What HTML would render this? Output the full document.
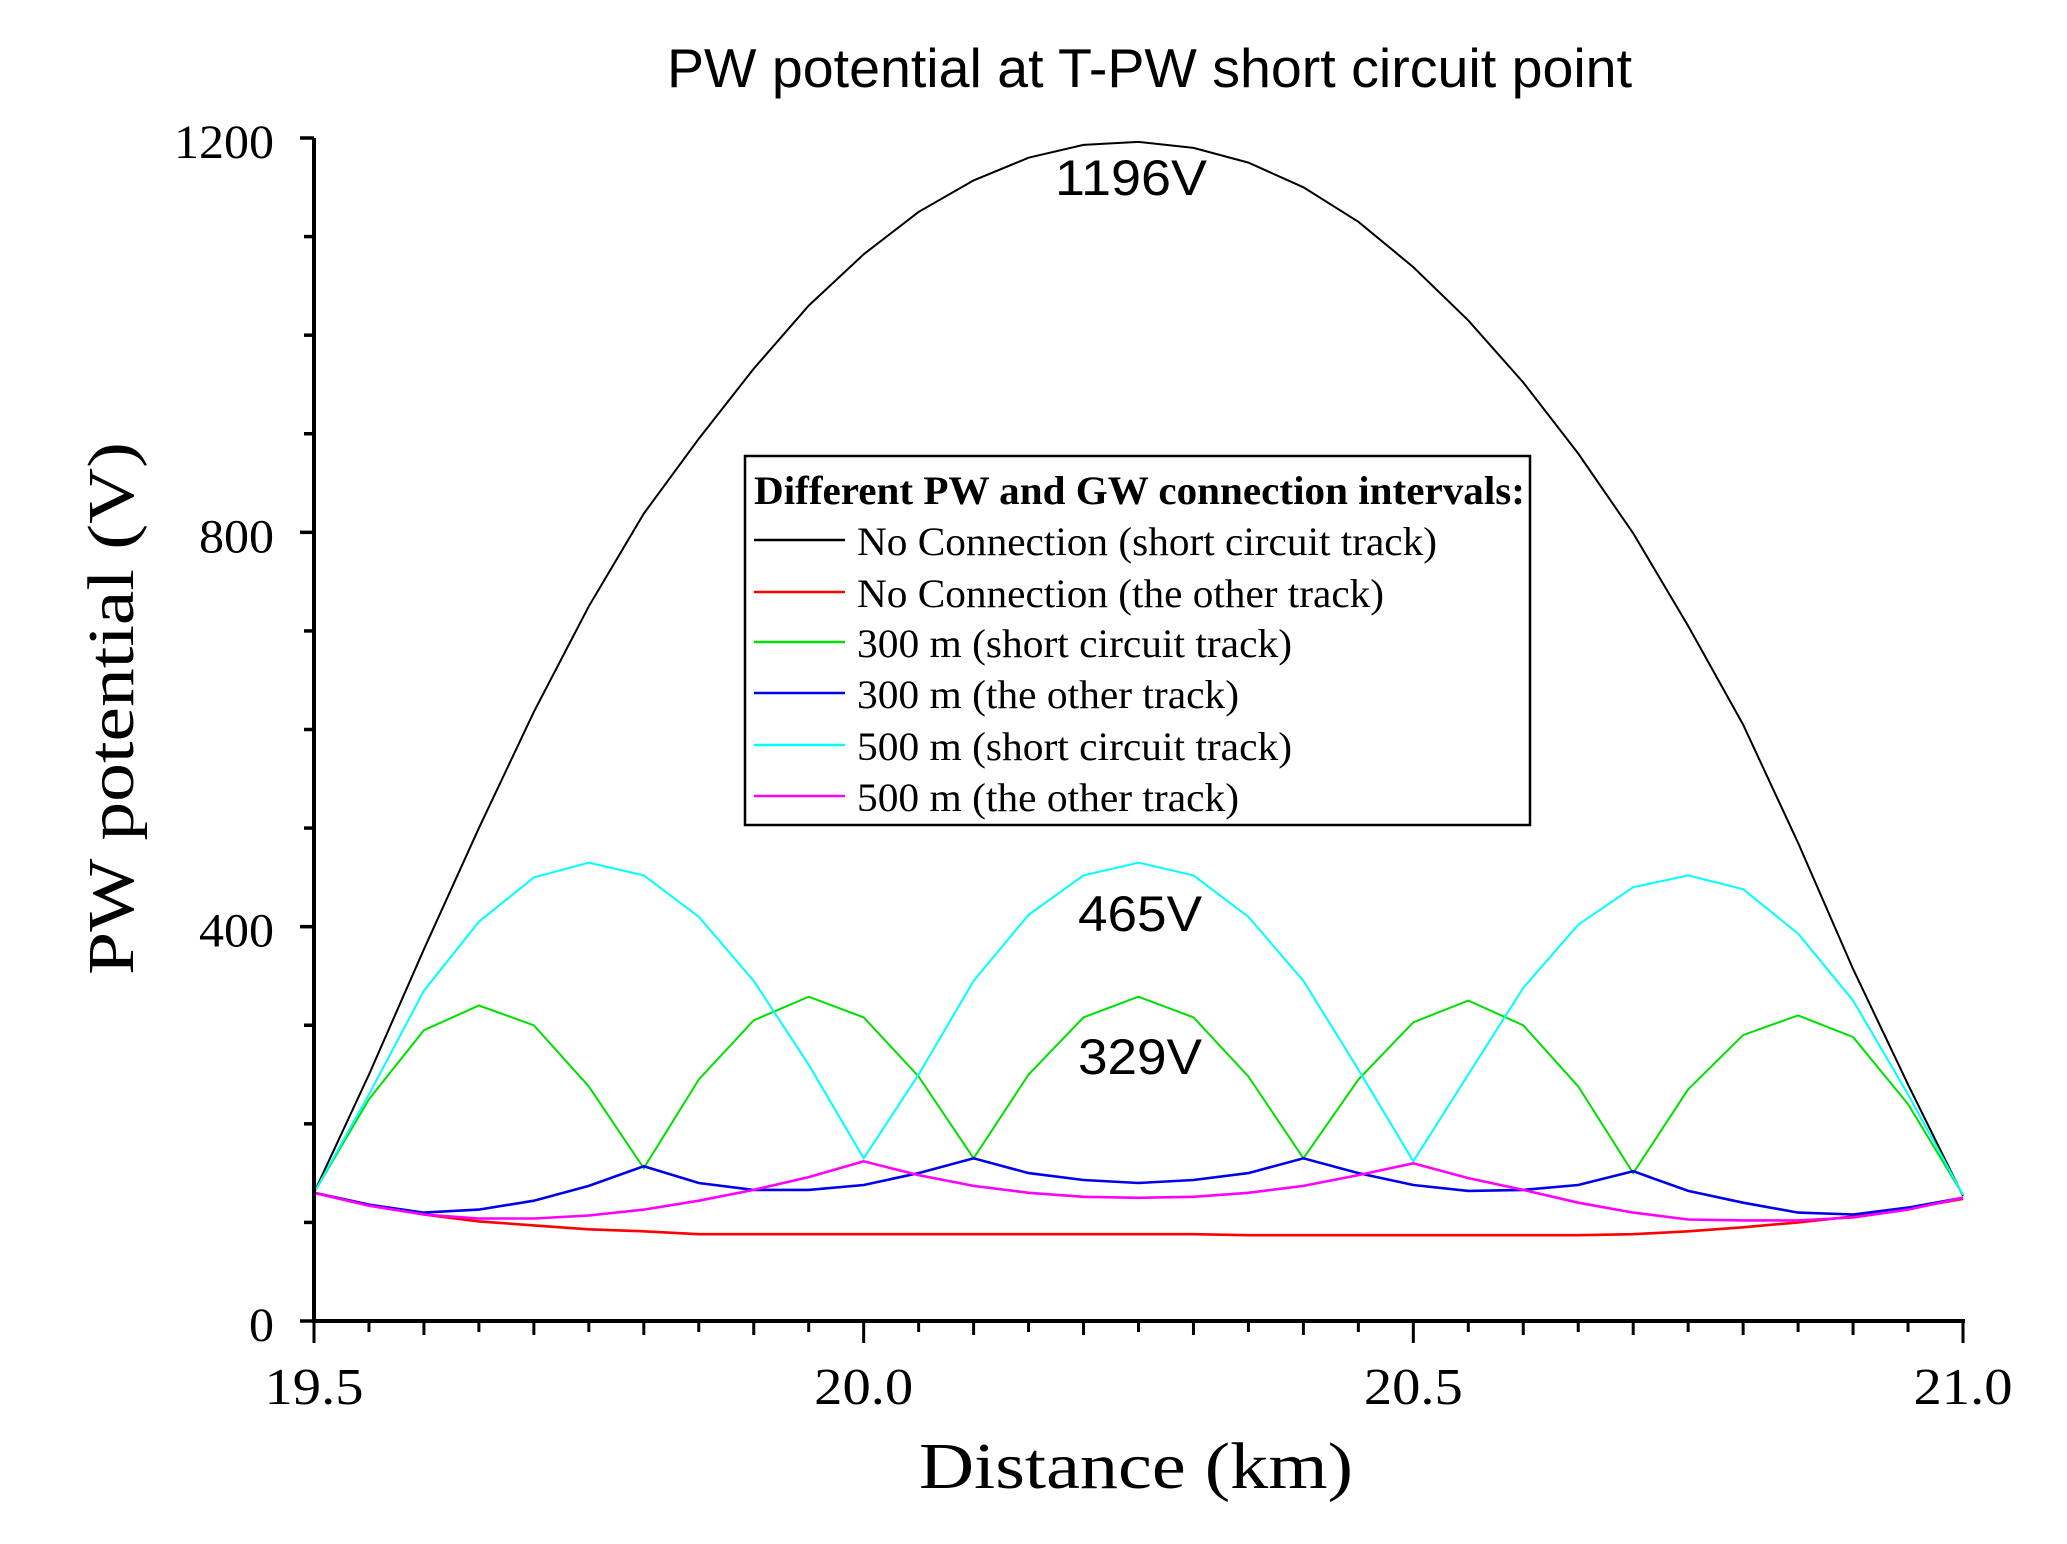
<!DOCTYPE html>
<html><head><meta charset="utf-8"><style>
html,body{margin:0;padding:0;background:#fff;}
svg{display:block;}
</style></head><body>
<svg id="chart" width="2067" height="1544" viewBox="0 0 2067 1544" xmlns="http://www.w3.org/2000/svg">
<rect width="2067" height="1544" fill="#fff"/>
<text x="667" y="87" textLength="965" lengthAdjust="spacingAndGlyphs" font-family="Liberation Sans, sans-serif" font-size="55">PW potential at T-PW short circuit point</text>
<g id="series"></g>
<g id="axes"></g>
<text x="919" y="1488" textLength="434" lengthAdjust="spacingAndGlyphs" font-family="Liberation Serif, serif" font-size="66">Distance (km)</text>
<text transform="translate(133,975) rotate(-90)" x="0" y="0" textLength="533" lengthAdjust="spacingAndGlyphs" font-family="Liberation Serif, serif" font-size="66">PW potential (V)</text>
<text x="1055" y="195" textLength="152" lengthAdjust="spacingAndGlyphs" font-family="Liberation Sans, sans-serif" font-size="50">1196V</text>
<text x="1078" y="931" textLength="124" lengthAdjust="spacingAndGlyphs" font-family="Liberation Sans, sans-serif" font-size="50">465V</text>
<text x="1078" y="1074" textLength="124" lengthAdjust="spacingAndGlyphs" font-family="Liberation Sans, sans-serif" font-size="50">329V</text>
<g>
<rect x="745" y="456" width="785" height="369" fill="#fff" stroke="#000" stroke-width="2.5"/>
<text x="754" y="504" textLength="771" lengthAdjust="spacingAndGlyphs" font-family="Liberation Serif, serif" font-weight="bold" font-size="40">Different PW and GW connection intervals:</text>
<g id="legend-entries"></g>
</g>
</svg>
<script>
const xs = [19.5,19.55,19.6,19.65,19.7,19.75,19.8,19.85,19.9,19.95,20.0,20.05,20.1,20.15,20.2,20.25,20.3,20.35,20.4,20.45,20.5,20.55,20.6,20.65,20.7,20.75,20.8,20.85,20.9,20.95,21.0];
const noConnShort = [130,250,377,500,618,725,819,895,966,1030,1082,1125,1157,1180,1193,1196,1190,1175,1150,1115,1069,1015,952,880,799,705,605,485,357,240,127];
const noConnOther = [130,118,108,101,97,93,91,88,88,88,88,88,88,88,88,88,88,87,87,87,87,87,87,87,88,91,95,100,106,114,124];
const m300Short = [130,225,295,320,300,238,155,245,305,329,308,248,165,250,308,329,308,248,165,245,303,325,300,238,150,235,290,310,288,220,128];
const m300Other = [130,118,110,113,122,137,157,140,133,133,138,150,165,150,143,140,143,150,165,150,138,132,133,138,152,132,120,110,108,115,125];
const m500Short = [130,230,335,405,450,465,452,410,345,260,165,250,345,412,452,465,452,410,345,255,162,250,338,402,440,452,438,393,325,230,128];
const m500Other = [130,117,108,104,104,107,113,122,133,146,162,148,137,130,126,125,126,130,137,148,160,145,133,120,110,103,102,102,105,113,125];
const seriesNames = ["No Connection (short circuit track)","No Connection (the other track)","300 m (short circuit track)","300 m (the other track)","500 m (short circuit track)","500 m (the other track)"];
const xTicks = [19.5,20.0,20.5,21.0];
const xTickLabels = ["19.5","20.0","20.5","21.0"];
const yTicks = [0,400,800,1200];
const yTickLabels = ["0","400","800","1200"];

const NS = "http://www.w3.org/2000/svg";
const X0=314, X1=1963, Y0=1321, Y1=138;
function sx(v){return X0+(v-19.5)/(21.0-19.5)*(X1-X0);}
function sy(v){return Y0-(v/1200)*(Y0-Y1);}
function mk(tag, attrs, parent){const e=document.createElementNS(NS,tag);for(const k in attrs)e.setAttribute(k,attrs[k]);parent.appendChild(e);return e;}

const colors=["#000000","#ff0000","#00e000","#0000ee","#00ffff","#ff00ff"];
const data=[noConnShort,noConnOther,m300Short,m300Other,m500Short,m500Other];
const keys=["no-connection-short","no-connection-other","300m-short","300m-other","500m-short","500m-other"];
const sg=document.getElementById("series");
data.forEach((arr,i)=>{
  const pts=arr.map((v,j)=>sx(xs[j]).toFixed(1)+","+sy(v).toFixed(1)).join(" ");
  const pl=mk("polyline",{points:pts,fill:"none",stroke:colors[i],"stroke-width":(i===1||i===3||i===5)?2.6:2},sg);
  
  
});

const ax=document.getElementById("axes");
const yl=mk("line",{x1:X0,y1:Y0,x2:X0,y2:Y1,stroke:"#000","stroke-width":4},ax);


const xl=mk("line",{x1:X0-2,y1:Y0,x2:X1+2,y2:Y0,stroke:"#000","stroke-width":4},ax);


for(let v=0;v<=1200;v+=100){
  const major=v%400===0;
  const t=mk("line",{x1:X0-(major?14:10),y1:sy(v),x2:X0,y2:sy(v),stroke:"#000","stroke-width":3.5},ax);
  
  
}
for(let k=0;k<=30;k++){
  const v=19.5+k*0.05;
  const major=k%10===0, mid=k%2===0;
  const t=mk("line",{x1:sx(v),y1:Y0,x2:sx(v),y2:Y0+(major?22:(mid?14:11)),stroke:"#000","stroke-width":3},ax);
  
  
}
xTicks.forEach((v,i)=>{
  const t=mk("text",{x:sx(v),y:1404,"text-anchor":"middle","font-family":"Liberation Serif, serif","font-size":"52",textLength:"99",lengthAdjust:"spacingAndGlyphs"},ax);
  t.textContent=xTickLabels[i];
  
  
});
yTicks.forEach((v,i)=>{
  const lab=yTickLabels[i];
  const t=mk("text",{x:274,y:sy(v)+20,"text-anchor":"end","font-family":"Liberation Serif, serif","font-size":"48",textLength:String(25*lab.length),lengthAdjust:"spacingAndGlyphs"},ax);
  t.textContent=lab;
  
  
});

const lg=document.getElementById("legend-entries");
const lineYs=[540,592,642,693,745,796];
const widths=[580,527,435,382,435,382];
seriesNames.forEach((n,i)=>{
  const l=mk("line",{x1:754,y1:lineYs[i],x2:845,y2:lineYs[i],stroke:colors[i],"stroke-width":2.5},lg);
  
  
  const t=mk("text",{x:857,y:lineYs[i]+15,"font-family":"Liberation Serif, serif","font-size":"40",textLength:String(widths[i]),lengthAdjust:"spacingAndGlyphs"},lg);
  t.textContent=n;
  
  
});
</script>
</body></html>
